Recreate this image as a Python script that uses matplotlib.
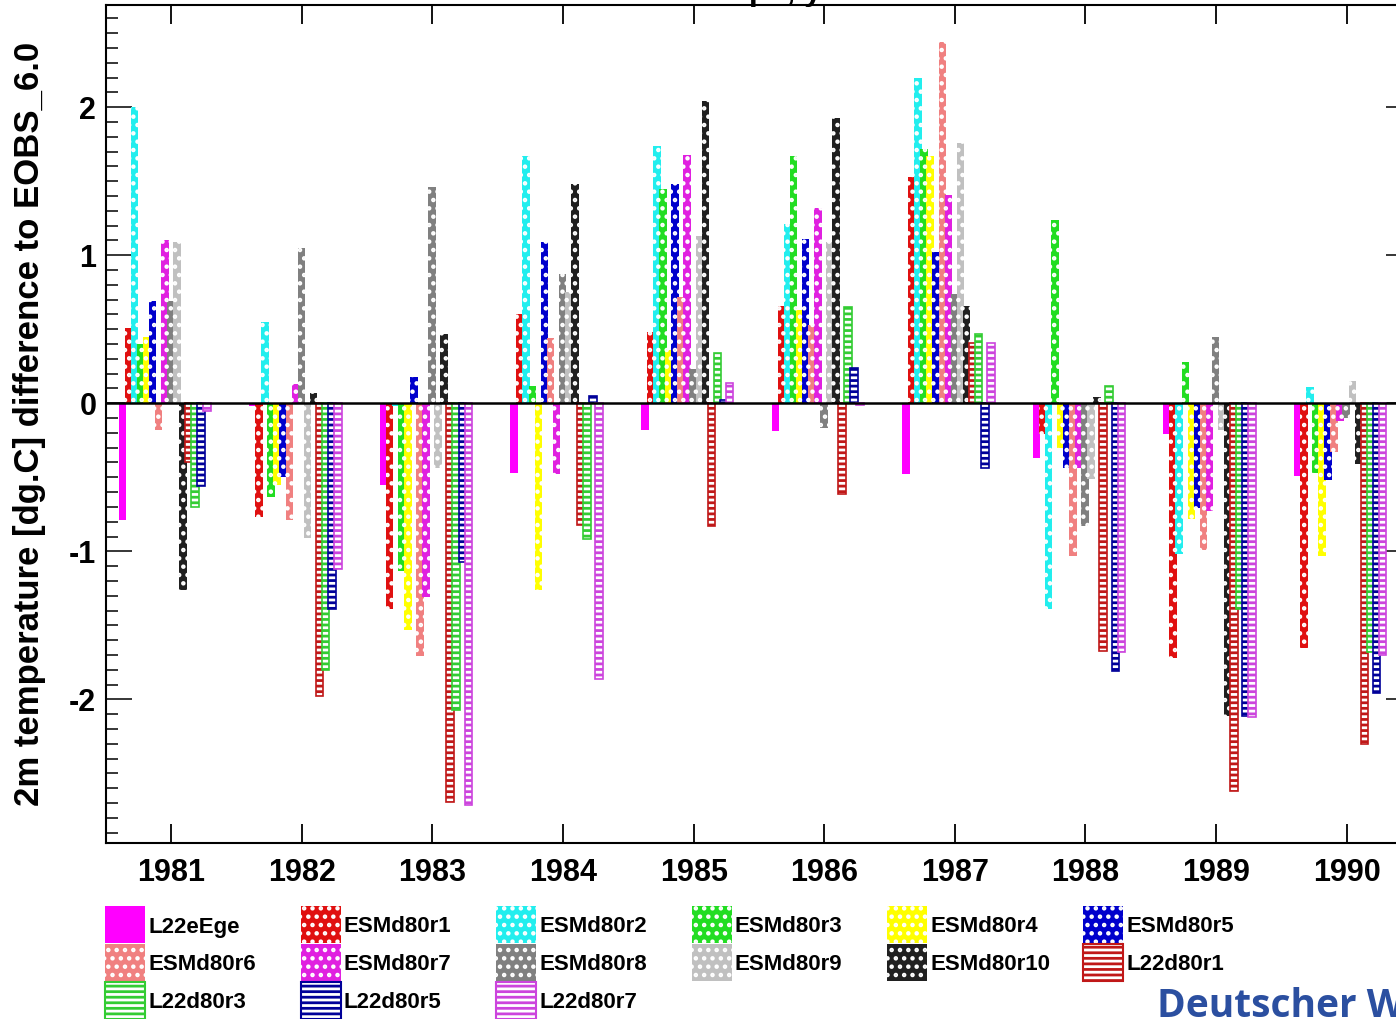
import matplotlib
matplotlib.use("Agg")
import matplotlib.pyplot as plt
from matplotlib.patches import Rectangle
from matplotlib.ticker import MultipleLocator

# years on the x axis
years = [1981, 1982, 1983, 1984, 1985, 1986, 1987, 1988, 1989, 1990]

# 2m temperature difference to EOBS_6.0 [dg.C], one list per run
L22eEge = [-0.79, -0.02, -0.55, -0.47, -0.18, -0.19, -0.48, -0.37, -0.21, -0.49]
ESMd80r1 = [0.51, -0.77, -1.39, 0.60, 0.48, 0.66, 1.53, -0.21, -1.72, -1.65]
ESMd80r2 = [2.00, 0.55, -0.02, 1.67, 1.74, 1.21, 2.20, -1.39, -1.02, 0.11]
ESMd80r3 = [0.40, -0.63, -1.13, 0.12, 1.45, 1.67, 1.72, 1.24, 0.28, -0.47]
ESMd80r4 = [0.45, -0.55, -1.53, -1.26, 0.36, 0.63, 1.67, -0.30, -0.78, -1.03]
ESMd80r5 = [0.69, -0.50, 0.18, 1.09, 1.48, 1.11, 1.02, -0.44, -0.71, -0.52]
ESMd80r6 = [-0.18, -0.79, -1.71, 0.44, 0.72, 0.53, 2.44, -1.03, -0.99, -0.33]
ESMd80r7 = [1.10, 0.13, -1.31, -0.48, 1.68, 1.32, 1.41, -0.44, -0.73, -0.12]
ESMd80r8 = [0.69, 1.05, 1.46, 0.87, 0.23, -0.17, 0.74, -0.83, 0.45, -0.10]
ESMd80r9 = [1.09, -0.91, -0.44, 0.75, 1.13, 1.09, 1.76, -0.51, -0.18, 0.15]
ESMd80r10 = [-1.26, 0.07, 0.47, 1.48, 2.04, 1.93, 0.66, 0.04, -2.11, -0.41]
L22d80r1 = [-0.40, -1.98, -2.69, -0.82, -0.83, -0.61, 0.41, -1.67, -2.62, -2.30]
L22d80r3 = [-0.70, -1.80, -2.07, -0.92, 0.34, 0.65, 0.47, 0.12, -1.39, -1.68]
L22d80r5 = [-0.56, -1.39, -1.07, 0.05, 0.02, 0.24, -0.44, -1.81, -2.11, -1.96]
L22d80r7 = [-0.05, -1.12, -2.71, -1.86, 0.14, -0.01, 0.41, -1.68, -2.12, -1.70]

names = ["L22eEge", "ESMd80r1", "ESMd80r2", "ESMd80r3", "ESMd80r4", "ESMd80r5",
         "ESMd80r6", "ESMd80r7", "ESMd80r8", "ESMd80r9", "ESMd80r10", "L22d80r1",
         "L22d80r3", "L22d80r5", "L22d80r7"]
series = [L22eEge, ESMd80r1, ESMd80r2, ESMd80r3, ESMd80r4, ESMd80r5, ESMd80r6,
          ESMd80r7, ESMd80r8, ESMd80r9, ESMd80r10, L22d80r1, L22d80r3, L22d80r5,
          L22d80r7]
colors = ["#FF00FF", "#E01010", "#22EEEE", "#22DD22", "#FFFF00", "#0000CC",
          "#F08080", "#E020E0", "#808080", "#C0C0C0", "#202020", "#C01818",
          "#33CC33", "#000099", "#CC44DD"]

plt.rcParams['font.family'] = ['Liberation Sans', 'DejaVu Sans']
plt.rcParams['font.weight'] = 'bold'
plt.rcParams['hatch.linewidth'] = 2.0
plt.rcParams['axes.unicode_minus'] = False

W, H = 1396, 1019
fig = plt.figure(figsize=(W / 100, H / 100), dpi=100)
ax = fig.add_axes([106 / W, 1 - 843 / H, (1412 - 106) / W, (843 - 5) / H])


def style_for(name, color):
    if name == "L22eEge":
        return dict(facecolor=color, edgecolor=color, linewidth=0)
    if name.startswith("ESMd80"):
        return dict(facecolor=color, edgecolor="white", hatch="..", linewidth=0)
    return dict(facecolor="white", edgecolor=color, hatch="---", linewidth=1.2)


pitch = 0.0464
width = 0.058
for i, (name, vals, col) in enumerate(zip(names, series, colors)):
    xs = [y + (i - 7) * pitch - 0.05 for y in years]
    ax.bar(xs, vals, width=width, zorder=2, **style_for(name, col))

ax.axhline(0, color="black", lw=1.8, zorder=3)

ax.set_xlim(1980.5, 1990.5)
ax.set_ylim(-2.97, 2.69)
ax.set_xticks(years)
ax.set_xticklabels([str(y) for y in years])
ax.yaxis.set_major_locator(MultipleLocator(1))
ax.yaxis.set_minor_locator(MultipleLocator(0.1))
ax.tick_params(axis="x", which="major", direction="in", top=True, length=14,
               width=1.3, labelsize=22, pad=11)
ax.tick_params(axis="y", which="major", direction="in", right=True, length=19,
               width=1.1, labelsize=22, pad=7)
ax.tick_params(axis="y", which="minor", direction="in", right=True, length=8.5,
               width=1.1)
for sp in ax.spines.values():
    sp.set_linewidth(1.5)

fig.text(30 / W, 1 - 424 / H, "2m temperature [dg.C] difference to EOBS_6.0",
         rotation=90, ha="center", va="center", fontsize=25, fontweight="bold")

# title, mostly cut off by the top edge
fig.text(676 / W, 1.0, "Europe, year", ha="left", va="baseline",
         fontsize=23, fontweight="bold")

# legend laid out on a fixed grid, row by row
for k, (name, col) in enumerate(zip(names, colors)):
    row, c = divmod(k, 6)
    x0 = 105 + c * 195.6
    y0 = 906 + row * 38
    st = style_for(name, col)
    if name.startswith("L22d80"):
        st["linewidth"] = 1.5
    fig.add_artist(Rectangle((x0 / W, 1 - (y0 + 37) / H), 40 / W, 37 / H,
                             transform=fig.transFigure, **st))
    fig.text((x0 + 43) / W, 1 - (y0 + 21) / H, name, ha="left", va="center",
             fontsize=16, fontweight="bold")

fig.text(1157 / W, 1 - 1017 / H, "Deutscher Wetterdienst", ha="left",
         va="baseline", fontsize=28, fontweight="bold", color="#2B4FA0",
         family=["Open Sans", "DejaVu Sans"])

fig.savefig("out.png", dpi=100)
